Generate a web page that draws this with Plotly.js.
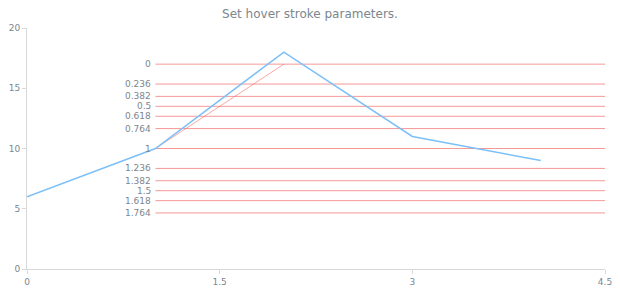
<!DOCTYPE html>
<html><head><meta charset="utf-8">
<script src="https://cdn.plot.ly/plotly-3.0.1.min.js"></script>
<style>html,body{margin:0;padding:0;background:#fff;}#chart{width:620px;height:300px;}</style>
</head><body><div id="chart"></div>
<script>
const xValues = [0, 1, 2, 3, 4];
const yValues = [6, 10, 18, 11, 9];
const fibStart = [1, 10];
const fibEnd = [2, 17];
const fibLevels = [0, 0.236, 0.382, 0.5, 0.618, 0.764, 1, 1.236, 1.382, 1.5, 1.618, 1.764];
const xTicks = [0, 1.5, 3, 4.5];
const yTicks = [0, 5, 10, 15, 20];
const xMax = 4.5;

const traces = [];
const range = fibEnd[1] - fibStart[1];
fibLevels.forEach(l => {
  const y = fibEnd[1] - range * l;
  traces.push({x: [fibStart[0], xMax], y: [y, y], mode: 'lines', type: 'scatter',
    line: {color: 'rgba(239,83,80,0.6)', width: 1}, hoverinfo: 'skip', showlegend: false});
});
traces.push({x: [fibStart[0], fibEnd[0]], y: [fibStart[1], fibEnd[1]], mode: 'lines', type: 'scatter',
  line: {color: 'rgba(239,83,80,0.5)', width: 1}, hoverinfo: 'skip', showlegend: false});
traces.push({x: xValues, y: yValues, mode: 'lines', type: 'scatter',
  line: {color: '#7cc0f7', width: 1.5}, showlegend: false});

const annotations = fibLevels.map(l => ({
  x: fibStart[0], y: fibEnd[1] - range * l, xref: 'x', yref: 'y', text: String(l),
  showarrow: false, xanchor: 'right', yanchor: 'middle', xshift: -2,
  font: {family: 'DejaVu Sans, sans-serif', size: 9, color: '#7c868e'}
}));

const layout = {
  width: 620, height: 300,
  margin: {l: 27, r: 15, t: 28, b: 31},
  paper_bgcolor: '#fff', plot_bgcolor: '#fff',
  title: {text: 'Set hover stroke parameters.', x: 0.5, xanchor: 'center', y: 0.955, yanchor: 'middle',
    font: {family: 'DejaVu Sans, sans-serif', size: 12, color: '#7c868e'}},
  xaxis: {range: [0, xMax], tickvals: xTicks, ticktext: xTicks.map(String), showgrid: false, zeroline: false,
    showline: true, linecolor: '#d9d9d9', linewidth: 1, ticks: 'outside', ticklen: 4, tickcolor: '#d9d9d9',
    tickfont: {family: 'DejaVu Sans, sans-serif', size: 9, color: '#7c868e'}, fixedrange: true},
  yaxis: {range: [0, 20], tickvals: yTicks, ticktext: yTicks.map(String), showgrid: false, zeroline: false,
    showline: true, linecolor: '#d9d9d9', linewidth: 1, ticks: 'outside', ticklen: 4, tickcolor: '#d9d9d9',
    tickfont: {family: 'DejaVu Sans, sans-serif', size: 9, color: '#7c868e'}, fixedrange: true},
  annotations: annotations
};
Plotly.newPlot('chart', traces, layout, {displayModeBar: false, staticPlot: true});
</script>
</body></html>
